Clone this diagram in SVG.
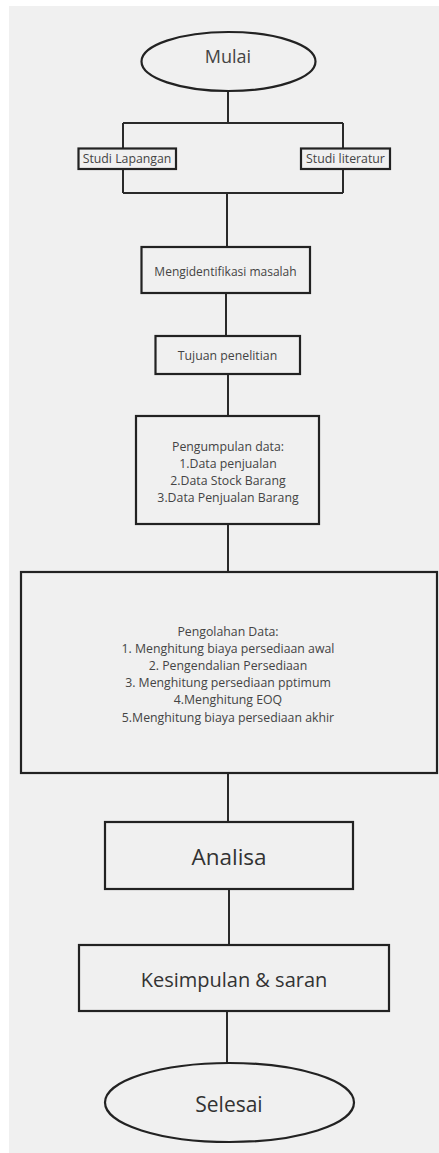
<svg xmlns="http://www.w3.org/2000/svg" width="439" height="1153" viewBox="0 0 439 1153">
<style>
.box{fill:#f0f0f0;stroke:#222;stroke-width:2.2}
.ln{fill:none;stroke:#2a2a2a;stroke-width:2}
.t{font-family:"Open Sans","Liberation Sans",sans-serif;fill:#444;text-anchor:middle;dominant-baseline:central}
.s{font-size:12.3px}
.b{fill:#333}
</style>
<rect x="0" y="0" width="439" height="1153" fill="#ffffff"/>
<rect x="9" y="6" width="430" height="1147" fill="#f0f0f0"/>
<g id="connectors">
<path class="ln" d="M228 91V123M123 123H343M123 123V148M343 123V148"/>
<path class="ln" d="M123 169V193M343 169V193M123 193H343M227 193V247"/>
<path class="ln" d="M226 293V336"/>
<path class="ln" d="M228 374V416"/>
<path class="ln" d="M228 524V572"/>
<path class="ln" d="M228 773V822"/>
<path class="ln" d="M229 889V945"/>
<path class="ln" d="M227 1011V1063"/>
</g>
<g id="mulai"><ellipse class="box" cx="228.5" cy="61.5" rx="87" ry="29.5"/><text class="t" x="228" y="56" font-size="18">Mulai</text></g>
<g id="studi-lapangan"><rect class="box" x="78.5" y="148.5" width="97.5" height="20.5"/><text class="t s" x="127" y="158.5" font-size="12">Studi Lapangan</text></g>
<g id="studi-literatur"><rect class="box" x="301" y="148.5" width="89" height="20.5"/><text class="t s" x="345.5" y="158.5">Studi literatur</text></g>
<g id="identifikasi"><rect class="box" x="141.5" y="247" width="168.5" height="46"/><text class="t" x="225.5" y="271" font-size="12">Mengidentifikasi masalah</text></g>
<g id="tujuan"><rect class="box" x="155.5" y="336" width="144.5" height="38"/><text class="t s" x="227.5" y="355">Tujuan penelitian</text></g>
<g id="pengumpulan"><rect class="box" x="136" y="416" width="183" height="108"/>
<text class="t s" x="228" y="446">Pengumpulan data:</text>
<text class="t s" x="228" y="463">1.Data penjualan</text>
<text class="t s" x="228" y="480">2.Data Stock Barang</text>
<text class="t s" x="228" y="497">3.Data Penjualan Barang</text></g>
<g id="pengolahan"><rect class="box" x="21" y="572" width="416" height="201"/>
<text class="t s" x="228" y="631">Pengolahan Data:</text>
<text class="t s" x="228" y="648">1. Menghitung biaya persediaan awal</text>
<text class="t s" x="228" y="665">2. Pengendalian Persediaan</text>
<text class="t s" x="228" y="682">3. Menghitung persediaan pptimum</text>
<text class="t s" x="228" y="699">4.Menghitung EOQ</text>
<text class="t s" x="228" y="717">5.Menghitung biaya persediaan akhir</text></g>
<g id="analisa"><rect class="box" x="105" y="822" width="248" height="67"/><text class="t b" x="229" y="856" font-size="22.5">Analisa</text></g>
<g id="kesimpulan"><rect class="box" x="79" y="945" width="310" height="66"/><text class="t b" x="234" y="979" font-size="20">Kesimpulan &amp; saran</text></g>
<g id="selesai"><ellipse class="box" cx="229.5" cy="1102.5" rx="124.5" ry="39.5"/><text class="t b" x="229" y="1104" font-size="21">Selesai</text></g>
</svg>
